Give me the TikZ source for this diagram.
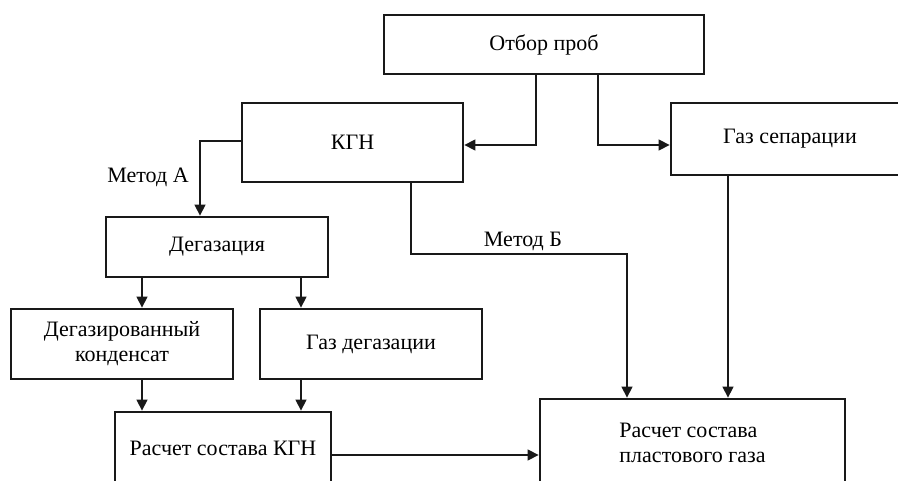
\documentclass[tikz,border=0pt]{standalone}
\usepackage{fontspec}
\setmainfont{Liberation Serif}
\usetikzlibrary{arrows.meta}
\begin{document}
\begin{tikzpicture}[x=1pt,y=-1pt,
  box/.style={draw=black!90, line width=2.8pt, inner sep=0pt, align=center,
    font=\fontsize{22}{25}\selectfont},
  conn/.style={line width=1.4pt, draw=black!90},
  arr/.style={conn, -{Triangle[length=11pt,width=11pt]}},
  lbl/.style={font=\fontsize{22}{25}\selectfont, anchor=base, inner sep=0pt}]
\useasboundingbox (0,0) rectangle (898,481);
\clip (0,0) rectangle (898,481);
\fill[white] (0,0) rectangle (898,481);

\node[box, minimum width=320pt, minimum height=59pt] (otbor) at (544,44.5) {Отбор проб};
\node[box, minimum width=221pt, minimum height=79pt] (kgn) at (352.5,142.5) {КГН};
\node[box, minimum width=238pt, minimum height=72pt] (gazsep) at (790,139) {Газ сепарации};
\node[box, minimum width=222pt, minimum height=60pt] (degaz) at (217,247) {Дегазация};
\node[box, minimum width=222pt, minimum height=70pt] (degcond) at (122,344) {Дегазированный\\конденсат};
\node[box, minimum width=222pt, minimum height=70pt] (gazdeg) at (371,344) {Газ дегазации};
\node[box, minimum width=216pt, minimum height=72pt] (raschkgn) at (223,448) {Расчет состава КГН};
\node[box, minimum width=305pt, minimum height=87pt, align=left] (raschpl) at (692.5,442.5) {Расчет состава\\пластового газа};

\coordinate (c1) at (536,145);
\coordinate (c2) at (598,145);
\coordinate (c3) at (200,141);
\coordinate (c4) at (411,254);
\coordinate (c5) at (627,254);
\coordinate (c6) at (728,0);
\coordinate (c7) at (142,0);
\coordinate (c8) at (301,0);
\coordinate (c9) at (0,455);

\draw[arr] (otbor.south -| c1) |- (kgn.east |- c1);
\draw[arr] (otbor.south -| c2) |- (gazsep.west |- c2);
\draw[arr] (kgn.west |- c3) -| (degaz.north -| c3);
\draw[arr] (kgn.south -| c4) |- (c5) -- (raschpl.north -| c5);
\draw[arr] (gazsep.south -| c6) -- (raschpl.north -| c6);
\draw[arr] (degaz.south -| c7) -- (degcond.north -| c7);
\draw[arr] (degaz.south -| c8) -- (gazdeg.north -| c8);
\draw[arr] (degcond.south -| c7) -- (raschkgn.north -| c7);
\draw[arr] (gazdeg.south -| c8) -- (raschkgn.north -| c8);
\draw[arr] (raschkgn.east |- c9) -- (raschpl.west |- c9);

\node[lbl] (ma) at (148,183) {Метод А};
\node[lbl] (mb) at (523,246.5) {Метод Б};
\end{tikzpicture}
\end{document}
